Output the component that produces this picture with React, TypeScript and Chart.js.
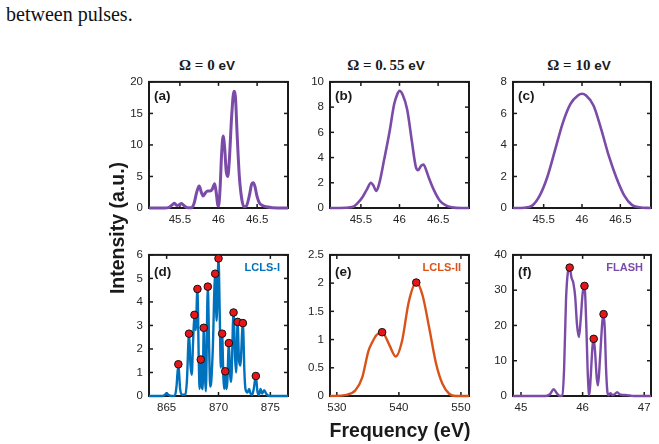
import React, { useEffect, useRef } from "react";
import { Chart, registerables } from "chart.js";

Chart.register(...registerables);

// ---- (a) Ω = 0 eV ----
const freqA = [45.1, 45.3, 45.36, 45.4, 45.43, 45.46, 45.49, 45.52, 45.56, 45.6, 45.65, 45.68, 45.72, 45.75, 45.78, 45.8, 45.83, 45.86, 45.89, 45.92, 45.95, 45.97, 45.99, 46.0, 46.02, 46.04, 46.06, 46.08, 46.1, 46.12, 46.14, 46.17, 46.2, 46.22, 46.24, 46.27, 46.3, 46.33, 46.36, 46.4, 46.43, 46.45, 46.47, 46.5, 46.53, 46.57, 46.62, 46.7, 46.9];
const intA = [0, 0, 0.1, 0.5, 0.75, 0.4, 0.5, 0.7, 0.3, 0.05, 0.05, 0.6, 2.6, 3.5, 2.4, 1.9, 2.4, 2.7, 2.7, 3.0, 3.85, 2.5, 0.5, 0.3, 3.0, 8.5, 11.4, 9.5, 5.8, 5.0, 7.5, 14.5, 18.5, 17.5, 12, 5, 1.5, 0.2, 0.3, 2, 3.8, 4.0, 3.5, 1.8, 0.8, 0.4, 0.2, 0.05, 0];

// ---- (b) Ω = 0.55 eV ----
const freqB = [45.1, 45.3, 45.4, 45.46, 45.52, 45.58, 45.63, 45.66, 45.7, 45.74, 45.8, 45.87, 45.93, 45.97, 46.0, 46.04, 46.1, 46.16, 46.21, 46.24, 46.28, 46.31, 46.34, 46.38, 46.44, 46.52, 46.6, 46.68, 46.8, 46.9];
const intB = [0, 0.02, 0.1, 0.4, 0.85, 1.5, 2.0, 1.8, 1.35, 2.0, 3.8, 6.0, 8.2, 9.0, 9.3, 9.0, 7.8, 5.3, 3.3, 3.0, 3.35, 3.45, 3.1, 2.4, 1.5, 0.6, 0.2, 0.05, 0, 0];

// ---- (c) Ω = 10 eV ----
const freqC = [45.1, 45.25, 45.35, 45.45, 45.55, 45.65, 45.75, 45.85, 45.95, 46.0, 46.05, 46.15, 46.25, 46.35, 46.45, 46.55, 46.65, 46.75, 46.9];
const intC = [0, 0.02, 0.15, 0.8, 2.0, 3.7, 5.4, 6.6, 7.15, 7.25, 7.15, 6.5, 5.0, 3.3, 1.9, 0.8, 0.2, 0.05, 0];

// ---- (d) LCLS-I ----
const freqD = [863.3, 864.6, 864.85, 865.0, 865.15, 865.5, 865.8, 865.95, 866.13, 866.3, 866.5, 866.8, 866.95, 867.16, 867.3, 867.42, 867.55, 867.68, 867.8, 867.97, 868.1, 868.18, 868.29, 868.4, 868.47, 868.58, 868.7, 868.78, 868.97, 869.1, 869.2, 869.3, 869.45, 869.68, 869.82, 870.0, 870.12, 870.22, 870.35, 870.47, 870.55, 870.65, 870.75, 870.85, 871.0, 871.12, 871.22, 871.45, 871.6, 871.7, 871.84, 871.98, 872.1, 872.35, 872.5, 872.6, 872.8, 872.95, 873.1, 873.25, 873.4, 873.6, 873.75, 873.9, 874.05, 874.2, 874.4, 874.6, 874.8, 875.2, 876.7];
const intD = [0, 0, 0.05, 0.12, 0.05, 0, 0.02, 0.4, 1.35, 0.3, 0.05, 0.05, 0.6, 2.65, 1.3, 0.9, 2.3, 3.45, 2.8, 4.55, 1.5, 0.3, 1.55, 0.4, 0.3, 2.9, 0.8, 0.2, 4.65, 2.0, 0.4, 0.6, 2.0, 5.2, 3.2, 5.85, 3.5, 1.2, 2.65, 0.8, 0.3, 1.05, 0.3, 0.6, 2.25, 0.9, 0.6, 3.55, 1.6, 1.0, 3.15, 1.5, 1.3, 3.1, 1.0, 0.3, 0.15, 0.3, 0.1, 0.05, 0.3, 0.85, 0.2, 0.05, 0.3, 0.1, 0.25, 0.1, 0.02, 0, 0];
const peakFreqD = [866.13, 867.16, 867.68, 867.97, 868.29, 868.58, 868.97, 869.68, 870.0, 870.35, 870.65, 871.0, 871.45, 871.84, 872.35, 873.6];
const peakIntD = [1.35, 2.65, 3.45, 4.55, 1.55, 2.9, 4.65, 5.2, 5.85, 2.65, 1.05, 2.25, 3.55, 3.15, 3.1, 0.85];

// ---- (e) LCLS-II ----
const freqE = [528.9, 531.6, 533.0, 534.1, 535.1, 535.7, 536.4, 537.3, 538.4, 539.5, 540.5, 541.6, 542.8, 543.8, 544.9, 546.0, 547.0, 548.1, 549.2, 551.3];
const intE = [0, 0.02, 0.1, 0.33, 0.8, 0.95, 1.08, 1.13, 0.92, 0.7, 0.97, 1.67, 2.01, 1.79, 1.2, 0.57, 0.22, 0.04, 0, 0];
const peakFreqE = [537.3, 542.8];
const peakIntE = [1.13, 2.01];

// ---- (f) FLASH ----
const freqF = [44.87, 45.4, 45.47, 45.53, 45.58, 45.63, 45.67, 45.7, 45.73, 45.76, 45.79, 45.82, 45.85, 45.88, 45.91, 45.94, 45.97, 46.0, 46.03, 46.06, 46.08, 46.1, 46.11, 46.13, 46.16, 46.18, 46.2, 46.23, 46.25, 46.28, 46.32, 46.34, 46.36, 46.38, 46.4, 46.42, 46.45, 46.48, 46.52, 46.56, 46.6, 46.65, 46.72, 46.8, 46.9, 47.11];
const intF = [0, 0, 0.5, 1.9, 0.8, 0, 0.2, 8, 27, 35, 36.4, 33.5, 32, 28, 20, 16.7, 22, 29, 31.2, 20, 8, 1, 0.3, 5, 14, 16.2, 13, 5, 3.0, 10, 21, 23.2, 19, 8, 1.5, 0.2, 0.8, 0.3, 0.5, 1.1, 0.5, 0.3, 0.25, 0.05, 0, 0];
const peakFreqF = [45.79, 46.03, 46.18, 46.34];
const peakIntF = [36.4, 31.2, 16.2, 23.2];

// ---- tick labels ----
const ticksOmega = [45.5, 46, 46.5];
const ticksLclsI = [865, 870, 875];
const ticksLclsII = [530, 540, 550];
const ticksFlash = [45, 46, 47];
const yTicksA = [0, 5, 10, 15, 20];
const yTicksB = [0, 2, 4, 6, 8, 10];
const yTicksC = [0, 2, 4, 6, 8];
const yTicksD = [0, 1, 2, 3, 4, 5, 6];
const yTicksE = [0, 0.5, 1, 1.5, 2, 2.5];
const yTicksF = [0, 10, 20, 30, 40];

const PURPLE = "#7B4BA8";
const BLUE = "#0072BD";
const ORANGE = "#D95319";
const TICK_FONT = "'Liberation Sans', Arial, sans-serif";

type PanelSpec = {
  left: number; top: number; width: number; height: number;
  xMin: number; xMax: number; yMax: number;
  xTicks: number[]; yTicks: number[];
  xs: number[]; ys: number[];
  px?: number[]; py?: number[];
  color: string; lineWidth: number;
  tag: string; source?: string;
};

const TOP = 79, TOP_H = 129, BOT = 252, BOT_H = 144;
const COLS = [
  { left: 149, width: 139 },
  { left: 330, width: 139 },
  { left: 513, width: 138 },
];

const panels: PanelSpec[] = [
  { ...COLS[0], top: TOP, height: TOP_H, xMin: 45.1, xMax: 46.9, yMax: 20, xTicks: ticksOmega, yTicks: yTicksA, xs: freqA, ys: intA, color: PURPLE, lineWidth: 3, tag: "(a)" },
  { ...COLS[1], top: TOP, height: TOP_H, xMin: 45.1, xMax: 46.9, yMax: 10, xTicks: ticksOmega, yTicks: yTicksB, xs: freqB, ys: intB, color: PURPLE, lineWidth: 2.6, tag: "(b)" },
  { ...COLS[2], top: TOP, height: TOP_H, xMin: 45.1, xMax: 46.9, yMax: 8, xTicks: ticksOmega, yTicks: yTicksC, xs: freqC, ys: intC, color: PURPLE, lineWidth: 2.6, tag: "(c)" },
  { ...COLS[0], top: BOT, height: BOT_H, xMin: 863.3, xMax: 876.7, yMax: 6, xTicks: ticksLclsI, yTicks: yTicksD, xs: freqD, ys: intD, px: peakFreqD, py: peakIntD, color: BLUE, lineWidth: 2.4, tag: "(d)", source: "LCLS-I" },
  { ...COLS[1], top: BOT, height: BOT_H, xMin: 528.9, xMax: 551.3, yMax: 2.5, xTicks: ticksLclsII, yTicks: yTicksE, xs: freqE, ys: intE, px: peakFreqE, py: peakIntE, color: ORANGE, lineWidth: 2.4, tag: "(e)", source: "LCLS-II" },
  { ...COLS[2], top: BOT, height: BOT_H, xMin: 44.87, xMax: 47.11, yMax: 40, xTicks: ticksFlash, yTicks: yTicksF, xs: freqF, ys: intF, px: peakFreqF, py: peakIntF, color: PURPLE, lineWidth: 2.4, tag: "(f)", source: "FLASH" },
];

// margins around the plot box inside each canvas
const PAD_L = 40, PAD_T = 10, PAD_R = 10, PAD_B = 24;

// box outline with inward ticks on all four sides
const framePlugin = {
  id: "frame",
  beforeDatasetsDraw(chart: any) {
    const { ctx, chartArea: a, scales } = chart;
    ctx.save();
    ctx.strokeStyle = "#1a1a1a";
    ctx.lineWidth = 2;
    ctx.strokeRect(a.left, a.top, a.right - a.left, a.bottom - a.top);
    ctx.lineWidth = 1.5;
    const len = 4;
    const seg = (x1: number, y1: number, x2: number, y2: number) => {
      ctx.beginPath();
      ctx.moveTo(x1, y1);
      ctx.lineTo(x2, y2);
      ctx.stroke();
    };
    scales.x.ticks.forEach((t: any) => {
      const x = scales.x.getPixelForValue(t.value);
      seg(x, a.bottom, x, a.bottom - len);
      seg(x, a.top, x, a.top + len);
    });
    scales.y.ticks.forEach((t: any) => {
      const y = scales.y.getPixelForValue(t.value);
      seg(a.left, y, a.left + len, y);
      seg(a.right, y, a.right - len, y);
    });
    ctx.restore();
  },
};

function Panel({ spec }: { spec: PanelSpec }) {
  const ref = useRef<HTMLCanvasElement>(null);
  const cw = spec.width + PAD_L + PAD_R;
  const ch = spec.height + PAD_T + PAD_B;

  useEffect(() => {
    if (!ref.current) return;
    const datasets: any[] = [
      {
        data: spec.xs.map((x, i) => ({ x, y: spec.ys[i] })),
        borderColor: spec.color,
        borderWidth: spec.lineWidth,
        pointRadius: 0,
        cubicInterpolationMode: "monotone",
        fill: false,
        clip: false,
        order: 2,
      },
    ];
    if (spec.px && spec.py) {
      datasets.push({
        data: spec.px.map((x, i) => ({ x, y: spec.py![i] })),
        showLine: false,
        pointRadius: 3.8,
        pointBackgroundColor: "#E8161B",
        pointBorderColor: "#111",
        pointBorderWidth: 1,
        clip: false,
        order: 1,
      });
    }
    const tickStyle = { family: TICK_FONT, size: 11.5 };
    const chart = new Chart(ref.current, {
      type: "line",
      data: { datasets },
      plugins: [framePlugin],
      options: {
        animation: false,
        responsive: false,
        devicePixelRatio: 1,
        layout: { padding: { left: 0, top: PAD_T, right: PAD_R, bottom: 0 } },
        plugins: { legend: { display: false }, tooltip: { enabled: false } },
        scales: {
          x: {
            type: "linear",
            min: spec.xMin,
            max: spec.xMax,
            grid: { display: false, drawTicks: false },
            border: { display: false },
            afterBuildTicks: (s: any) => { s.ticks = spec.xTicks.map((value) => ({ value })); },
            afterFit: (s: any) => { s.height = PAD_B; },
            ticks: { padding: 5, color: "#262626", font: tickStyle, maxRotation: 0, autoSkip: false, callback: (v: any) => String(v) },
          },
          y: {
            type: "linear",
            min: 0,
            max: spec.yMax,
            grid: { display: false, drawTicks: false },
            border: { display: false },
            afterBuildTicks: (s: any) => { s.ticks = spec.yTicks.map((value) => ({ value })); },
            afterFit: (s: any) => { s.width = PAD_L; },
            ticks: { padding: 6, color: "#262626", font: tickStyle, autoSkip: false, callback: (v: any) => String(v) },
          },
        },
      } as any,
    });
    return () => chart.destroy();
  }, [spec]);

  return (
    <>
      <canvas
        ref={ref}
        width={cw}
        height={ch}
        style={{ position: "absolute", left: spec.left - PAD_L, top: spec.top - PAD_T, width: cw, height: ch }}
      />
      <div
        style={{
          position: "absolute",
          left: spec.left + 5,
          top: spec.top + (spec.top === TOP ? 9 : 12),
          font: `bold 13.5px ${TICK_FONT}`,
          lineHeight: "15px",
          color: "#1a1a1a",
        }}
      >
        {spec.tag}
      </div>
      {spec.source && (
        <div
          style={{
            position: "absolute",
            right: 659 - (spec.left + spec.width) + 8,
            top: spec.top + 9,
            font: `bold 11px ${TICK_FONT}`,
            lineHeight: "12px",
            color: spec.color,
          }}
        >
          {spec.source}
        </div>
      )}
    </>
  );
}

const titles = [
  { cx: 207, omega: "0" },
  { cx: 386, omega: "0.\u200955" },
  { cx: 579, omega: "10" },
];

export default function App() {
  return (
    <div style={{ position: "absolute", left: 0, top: 0, width: 659, height: 444, background: "#fff", overflow: "hidden" }}>
      <div
        style={{
          position: "absolute",
          left: 6,
          top: 4,
          fontFamily: "'Liberation Serif', 'Times New Roman', serif",
          fontSize: 20,
          lineHeight: "20px",
          color: "#111",
          whiteSpace: "nowrap",
        }}
      >
        between pulses.
      </div>
      {titles.map((t, i) => (
        <div
          key={i}
          style={{
            position: "absolute",
            left: t.cx,
            top: 56,
            transform: "translateX(-50%)",
            whiteSpace: "nowrap",
            lineHeight: "17px",
            color: "#1a1a1a",
          }}
        >
          <span style={{ fontFamily: "'Liberation Serif', 'DejaVu Serif', serif", fontWeight: "bold", fontSize: 15 }}>
            {"\u03A9 = " + t.omega}
          </span>
          <span style={{ fontFamily: TICK_FONT, fontWeight: "bold", fontSize: 13.5 }}>{" eV"}</span>
        </div>
      ))}
      {panels.map((p, i) => (
        <Panel key={i} spec={p} />
      ))}
      <div
        style={{
          position: "absolute",
          left: 117,
          top: 228,
          transform: "translate(-50%, -50%) rotate(-90deg)",
          font: `bold 19.5px ${TICK_FONT}`,
          color: "#1a1a1a",
          whiteSpace: "nowrap",
        }}
      >
        Intensity (a.u.)
      </div>
      <div
        style={{
          position: "absolute",
          left: 400,
          top: 430,
          transform: "translate(-50%, -50%)",
          font: `bold 19.5px ${TICK_FONT}`,
          color: "#1a1a1a",
          whiteSpace: "nowrap",
        }}
      >
        Frequency (eV)
      </div>
    </div>
  );
}
